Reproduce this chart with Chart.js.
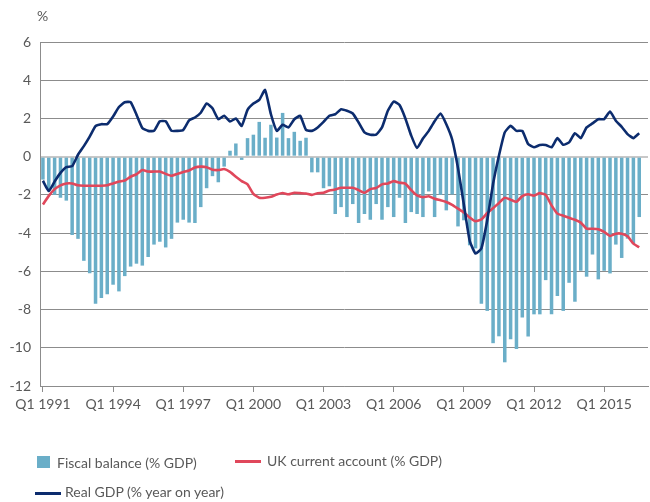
<!DOCTYPE html>
<html>
<head>
<meta charset="utf-8">
<script src="https://cdn.jsdelivr.net/npm/chart.js@4.4.1/dist/chart.umd.min.js"></script>
<style>
  html, body { margin: 0; padding: 0; background: #fff; }
  #wrap { position: relative; width: 650px; height: 502px; font-family: Lato, "Open Sans", sans-serif; color: #595959; }
  #chart { position: absolute; left: 0; top: 0; }
  #unit { position: absolute; left: 37px; top: 7px; font-size: 14px; }
  .leg { position: absolute; font-size: 14px; line-height: 16px; white-space: nowrap; }
  .leg span { position: absolute; }
  .sq { width: 13px; height: 12px; background: #6aaec8; }
  .ln { width: 26px; height: 3px; }
</style>
</head>
<body>
<div id="wrap">
  <canvas id="chart" width="650" height="502"></canvas>
  <div id="unit">%</div>
  <div class="leg" style="left:37px; top:455px;"><span class="sq" style="left:0; top:1px;"></span><span style="left:20px; top:0;">Fiscal balance (% GDP)</span></div>
  <div class="leg" style="left:235px; top:453px;"><span class="ln" style="left:0; top:7px; background:#e0475b;"></span><span style="left:32px; top:0;">UK current account (% GDP)</span></div>
  <div class="leg" style="left:35px; top:484px;"><span class="ln" style="left:0; top:8px; background:#0c2c6e;"></span><span style="left:30px; top:0;">Real GDP (% year on year)</span></div>
</div>
<script>
// quarters Q1 1991 .. Q4 2016 (last quarter has no data yet)
let years = [];
for (let y = 1991; y <= 2016; y++) years.push(y);
let quarters = [];
years.forEach(function (y) {
  ["Q1", "Q2", "Q3", "Q4"].forEach(function (q) { quarters.push(q + " " + y); });
});

let fiscalBalance = [
  -1.2, -1.7, -2.0, -2.15, -2.3, -4.1, -4.3, -5.45, -6.1, -7.7,
  -7.4, -7.2, -6.7, -7.05, -6.25, -5.75, -5.6, -5.7, -5.25, -4.6,
  -4.45, -4.75, -4.3, -3.45, -3.3, -3.45, -3.47, -2.64, -1.65, -1.02,
  -1.34, -0.52, 0.31, 0.69, -0.17, 0.97, 1.15, 1.82, 0.99, 1.67,
  1.0, 2.29, 0.97, 1.3, 0.83, 0.99, -0.82, -0.82, -1.65, -1.55,
  -3.0, -2.64, -3.16, -2.48, -3.47, -3.0, -3.3, -2.48, -3.3, -2.64,
  -3.16, -2.15, -3.47, -2.9, -3.0, -3.16, -1.82, -3.16, -2.0, -2.81,
  -1.98, -3.65, -3.33, -4.64, -4.8, -7.7, -8.07, -9.76, -9.4, -10.76,
  -9.55, -10.07, -8.42, -9.41, -8.25, -8.25, -6.46, -8.25, -7.29, -8.07,
  -6.6, -7.59, -5.97, -6.28, -5.12, -6.42, -5.97, -6.11, -4.6, -5.3,
  -4.29, -4.55, -3.16
];

let currentAccount = [
  -2.5, -2.05, -1.7, -1.5, -1.4, -1.4, -1.5, -1.52, -1.52, -1.52,
  -1.52, -1.5, -1.4, -1.3, -1.25, -1.05, -0.92, -0.7, -0.78, -0.78,
  -0.78, -0.9, -1.0, -0.9, -0.8, -0.72, -0.57, -0.52, -0.55, -0.68,
  -0.7, -0.65, -0.8, -1.05, -1.28, -1.45, -1.95, -2.15, -2.15, -2.1,
  -1.98, -1.9, -1.97, -1.89, -1.91, -1.93, -2.0, -1.91, -1.89, -1.77,
  -1.72, -1.63, -1.63, -1.63, -1.75, -1.89, -1.7, -1.64, -1.45, -1.4,
  -1.28, -1.36, -1.41, -1.75, -2.03, -2.12, -2.07, -2.2, -2.28, -2.37,
  -2.52, -2.72, -2.92, -3.18, -3.38, -3.28, -2.95, -2.7, -2.42, -2.15,
  -2.25, -2.36, -2.06, -1.97, -2.04, -1.91, -2.0, -2.55, -2.98, -3.09,
  -3.2, -3.3, -3.45, -3.77, -3.77, -3.8, -3.94, -4.15, -4.03, -4.03,
  -4.17, -4.55, -4.74
];

let realGdp = [
  -1.26, -1.8, -1.3, -0.85, -0.55, -0.5, 0.1, 0.55, 1.05, 1.6,
  1.7, 1.7, 2.1, 2.6, 2.85, 2.85, 2.2, 1.5, 1.35, 1.35,
  1.85, 1.85, 1.35, 1.35, 1.4, 1.9, 2.05, 2.3, 2.78, 2.53,
  1.96, 2.14, 1.84, 2.0, 1.61, 2.45, 2.78, 2.97, 3.49, 2.22,
  1.35, 1.67, 1.53, 1.96, 2.14, 1.4, 1.35, 1.53, 1.82, 2.14,
  2.22, 2.48, 2.4, 2.26, 1.79, 1.27, 1.15, 1.15, 1.53, 2.4,
  2.88, 2.7, 2.0, 1.1, 0.45, 0.95, 1.35, 1.85, 2.26, 1.7,
  0.9, -0.6, -2.5, -4.4, -5.07, -4.8, -3.33, -1.42, 0.05, 1.27,
  1.61, 1.35, 1.35, 0.66, 0.49, 0.61, 0.61, 0.49, 0.97, 0.62,
  0.75, 1.23, 0.97, 1.53, 1.74, 1.96, 1.96, 2.36, 1.88, 1.56,
  1.18, 0.97, 1.23
];

let yTicks = [-12, -10, -8, -6, -4, -2, 0, 2, 4, 6];

let axisGrey = "#8c8c8c";
let fontSpec = { family: "Lato", size: 14 };

let chartDraw = function () {
  let ctx = document.getElementById("chart").getContext("2d");

  new Chart(ctx, {
    type: "bar",
    data: {
      labels: quarters,
      datasets: [
        {
          type: "line",
          label: "Real GDP (% year on year)",
          data: realGdp,
          borderColor: "#0c2c6e",
          borderWidth: 2.6,
          pointRadius: 0,
          tension: 0.15,
          order: 0,
        },
        {
          type: "line",
          label: "UK current account (% GDP)",
          data: currentAccount,
          borderColor: "#e0475b",
          borderWidth: 2.6,
          pointRadius: 0,
          tension: 0.15,
          order: 1,
        },
        {
          label: "Fiscal balance (% GDP)",
          data: fiscalBalance,
          backgroundColor: "#6aaec8",
          barPercentage: 0.6,
          categoryPercentage: 1,
          order: 2,
        },
      ],
    },
    options: {
      responsive: false,
      animation: false,
      layout: { padding: { left: 0, right: 2, top: 42, bottom: 86 } },
      plugins: {
        legend: { display: false },
        tooltip: { enabled: false },
      },
      scales: {
        x: {
          offset: true,
          afterFit: function (scale) { scale.height = 30; },
          grid: {
            offset: false,
            drawOnChartArea: false,
            drawTicks: true,
            tickLength: 6,
            color: function (c) { return c.index % 12 === 0 ? axisGrey : "rgba(0,0,0,0)"; },
          },
          border: { display: true, color: axisGrey },
          ticks: {
            autoSkip: false,
            maxRotation: 0,
            minRotation: 0,
            padding: 4,
            color: "#595959",
            font: fontSpec,
            callback: function (v, i) { return i % 12 === 0 ? quarters[i] : ""; },
          },
        },
        y: {
          min: yTicks[0],
          max: yTicks[yTicks.length - 1],
          afterFit: function (scale) { scale.width = 40; },
          afterBuildTicks: function (scale) {
            scale.ticks = yTicks.map(function (v) { return { value: v }; });
          },
          grid: {
            drawTicks: false,
            color: function (c) { return c.tick && c.tick.value === 0 ? "#c8c8c8" : axisGrey; },
            lineWidth: function (c) { return c.tick && c.tick.value === 0 ? 2 : 1; },
          },
          border: { display: true, color: axisGrey },
          ticks: {
            padding: 9,
            color: "#595959",
            font: fontSpec,
          },
        },
      },
    },
  });
};

window.onload = function () {
  chartDraw();
};
</script>
</body>
</html>
